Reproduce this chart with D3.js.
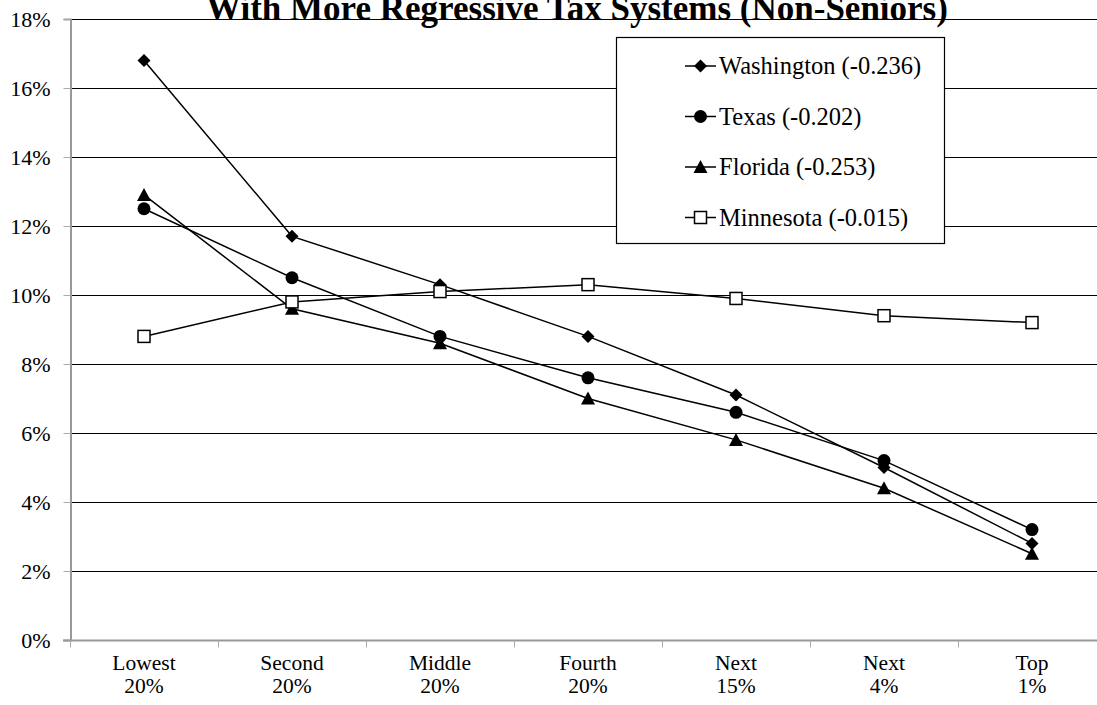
<!DOCTYPE html>
<html><head><meta charset="utf-8">
<script src="https://cdn.jsdelivr.net/npm/d3@7"></script>
<style>body{margin:0;background:#fff}svg{display:block}</style>
</head><body>
<svg id="c" width="1097" height="705"></svg>
<script>
const title = "With More Regressive Tax Systems (Non-Seniors)";
const categories = [["Lowest","20%"],["Second","20%"],["Middle","20%"],["Fourth","20%"],["Next","15%"],["Next","4%"],["Top","1%"]];
const yTicks = [0,2,4,6,8,10,12,14,16,18];
const washington = [16.8,11.7,10.3,8.8,7.1,5.0,2.8];
const texas = [12.5,10.5,8.8,7.6,6.6,5.2,3.2];
const florida = [12.9,9.6,8.6,7.0,5.8,4.4,2.5];
const minnesota = [8.8,9.8,10.1,10.3,9.9,9.4,9.2];
const seriesNames = ["Washington (-0.236)","Texas (-0.202)","Florida (-0.253)","Minnesota (-0.015)"];
const seriesSymbols = ["diamond","circle","triangle","square"];
const seriesValues = [washington,texas,florida,minnesota];

(function(){
const svg = d3.select("#c");
const font = "'Liberation Serif','Times New Roman',serif";
const mLeft = 70, mTop = 19, mBottom = 640, bandW = 148;
const x = d3.scaleBand().domain(d3.range(categories.length)).range([mLeft, mLeft + bandW*categories.length]);
const y = d3.scaleLinear().domain([0,18]).range([mBottom, mTop]);

// gridlines
svg.append("g").selectAll("line").data(yTicks.filter(d=>d>0)).join("line")
  .attr("x1", mLeft).attr("x2", 1097).attr("y1", d=>Math.round(y(d))+0.5).attr("y2", d=>Math.round(y(d))+0.5)
  .attr("stroke", "#000").attr("stroke-width", 1);

// y axis
const yAxis = d3.axisLeft(y).tickValues(yTicks).tickFormat(d=>d+"%").tickSize(7).tickPadding(13);
const gy = svg.append("g").attr("transform", `translate(${mLeft+0.5},0)`).call(yAxis);
gy.attr("font-family", font).attr("font-size", 22);
gy.select(".domain").attr("stroke", "#999").attr("stroke-width", 2);
gy.selectAll(".tick line").attr("stroke", "#aaa");
gy.selectAll("text").attr("font-family", font).attr("font-size", 22).attr("fill", "#000");

// x axis
const xb = d3.scaleLinear().domain([0, categories.length]).range([mLeft, mLeft + bandW*categories.length]);
const gx = svg.append("g").attr("transform", `translate(0,${mBottom+0.5})`);
gx.append("line").attr("x1", mLeft-7).attr("x2", 1097).attr("stroke", "#999").attr("stroke-width", 2);
gx.selectAll(".tk").data(d3.range(categories.length+1)).join("line").attr("class","tk")
  .attr("x1", d=>xb(d)+0.5).attr("x2", d=>xb(d)+0.5).attr("y1", 0).attr("y2", 7).attr("stroke", "#aaa");
const xl = gx.selectAll(".lbl").data(categories).join("text").attr("class","lbl")
  .attr("font-family", font).attr("font-size", 21.5).attr("text-anchor", "middle");
xl.append("tspan").attr("x", (d,i)=>x(i)+x.bandwidth()/2).attr("y", 29).text(d=>d[0]);
xl.append("tspan").attr("x", (d,i)=>x(i)+x.bandwidth()/2).attr("y", 52).text(d=>d[1]);

function drawSymbol(g, type) {
  if (type === "diamond") g.append("path").attr("d", "M0,-6.5L6.5,0L0,6.5L-6.5,0Z").attr("fill", "#000");
  else if (type === "circle") g.append("circle").attr("r", 6.5).attr("fill", "#000");
  else if (type === "triangle") g.append("path").attr("d", "M0,-7L7,6L-7,6Z").attr("fill", "#000");
  else g.append("rect").attr("x", -6).attr("y", -6).attr("width", 12).attr("height", 12).attr("fill", "#fff").attr("stroke", "#000").attr("stroke-width", 1.5);
}

const line = d3.line().x((d,i)=>x(i)+x.bandwidth()/2).y(d=>y(d));
seriesValues.forEach((vals) => {
  svg.append("path").attr("d", line(vals)).attr("fill", "none").attr("stroke", "#000").attr("stroke-width", 1.5);
});
seriesValues.forEach((vals, si) => {
  vals.forEach((v, i) => {
    const g = svg.append("g").attr("transform", `translate(${x(i)+x.bandwidth()/2},${y(v)})`);
    drawSymbol(g, seriesSymbols[si]);
  });
});

// title
svg.append("text").attr("x", 577).attr("y", 20).attr("text-anchor", "middle")
  .attr("font-family", font).attr("font-weight", "bold").attr("font-size", 35).text(title);

// legend
const lg = svg.append("g");
lg.append("rect").attr("x", 616.5).attr("y", 37.5).attr("width", 328).attr("height", 206)
  .attr("fill", "#fff").attr("stroke", "#000").attr("stroke-width", 1.2);
seriesNames.forEach((n, i) => {
  const cy = 66 + i*50.5;
  lg.append("line").attr("x1", 685).attr("x2", 716).attr("y1", cy).attr("y2", cy).attr("stroke", "#000").attr("stroke-width", 1.5);
  const g = lg.append("g").attr("transform", `translate(700.5,${cy})`);
  drawSymbol(g, seriesSymbols[i]);
  lg.append("text").attr("x", 719).attr("y", cy + 8).attr("font-family", font).attr("font-size", 24.5).text(n);
});
})();
</script>
</body></html>
